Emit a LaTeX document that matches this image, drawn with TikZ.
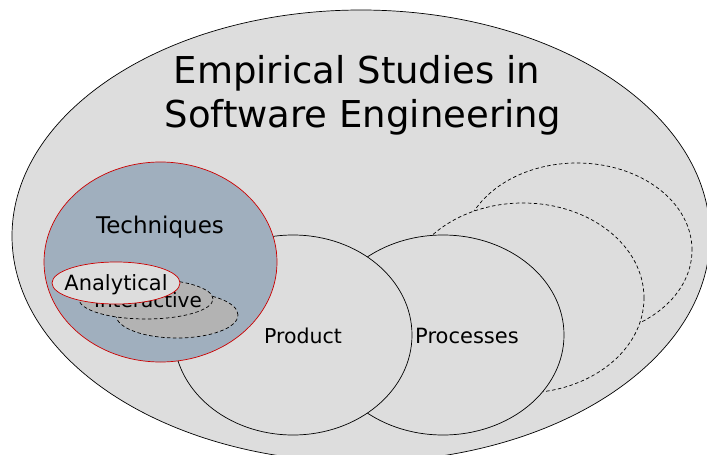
\documentclass[tikz,border=0pt]{standalone}
\usepackage{fontspec}
\setmainfont{DejaVu Sans}
\usetikzlibrary{shapes.geometric}
\definecolor{bggray}{RGB}{221,221,221}
\definecolor{techblue}{RGB}{160,175,190}
\definecolor{midgray}{RGB}{179,179,179}
\definecolor{redline}{RGB}{204,0,0}
\begin{document}
\begin{tikzpicture}[x=1pt,y=-1pt,
  blob/.style={ellipse, draw=black, line width=0.7pt, fill=bggray, inner sep=0pt, outer sep=0pt},
  dashblob/.style={blob, dash pattern=on 3.5pt off 2.5pt},
  redblob/.style={blob, draw=redline},
  lbl/.style={anchor=base, inner sep=0pt, text=black}]
\useasboundingbox (0,0) rectangle (707,455);
% outer field
\node[blob, minimum width=698pt, minimum height=452pt] (world) at (361,236) {};
% right-hand dashed sets
\node[dashblob, minimum width=230pt, minimum height=174pt] (extraB) at (577,250) {};
\node[dashblob, minimum width=242pt, minimum height=190pt] (extraA) at (523,298) {};
% processes and product
\node[blob, minimum width=242pt, minimum height=200pt] (processes) at (443,335) {};
\node[blob, minimum width=238pt, minimum height=200pt] (product) at (293,335) {};
% techniques
\node[redblob, fill=techblue, minimum width=233pt, minimum height=200pt] (techniques) at (160.5,262) {};
\node[dashblob, fill=midgray, minimum width=122pt, minimum height=46pt] (techC) at (177,315) {};
\node[dashblob, fill=midgray, minimum width=134pt, minimum height=40pt] (techB) at (146,299) {};
\node[lbl, font=\fontsize{20}{24}\selectfont] (interactiveText) at (148,307) {Interactive};
\node[redblob, minimum width=128pt, minimum height=42pt] (analytical) at (116,283) {};
\node[lbl, font=\fontsize{21}{25}\selectfont] (analyticalText) at (116,290) {Analytical};
% labels
\node[lbl, font=\fontsize{37}{44}\selectfont] (title1) at (357,83) {Empirical Studies in};
\node[lbl, font=\fontsize{37}{44}\selectfont] (title2) at (363,127) {Software Engineering};
\node[lbl, font=\fontsize{23}{27}\selectfont] (techText) at (160,233) {Techniques};
\node[lbl, font=\fontsize{20.5}{24}\selectfont] (productText) at (303,343) {Product};
\node[lbl, font=\fontsize{21}{25}\selectfont] (processesText) at (467,343) {Processes};
\end{tikzpicture}
\end{document}
